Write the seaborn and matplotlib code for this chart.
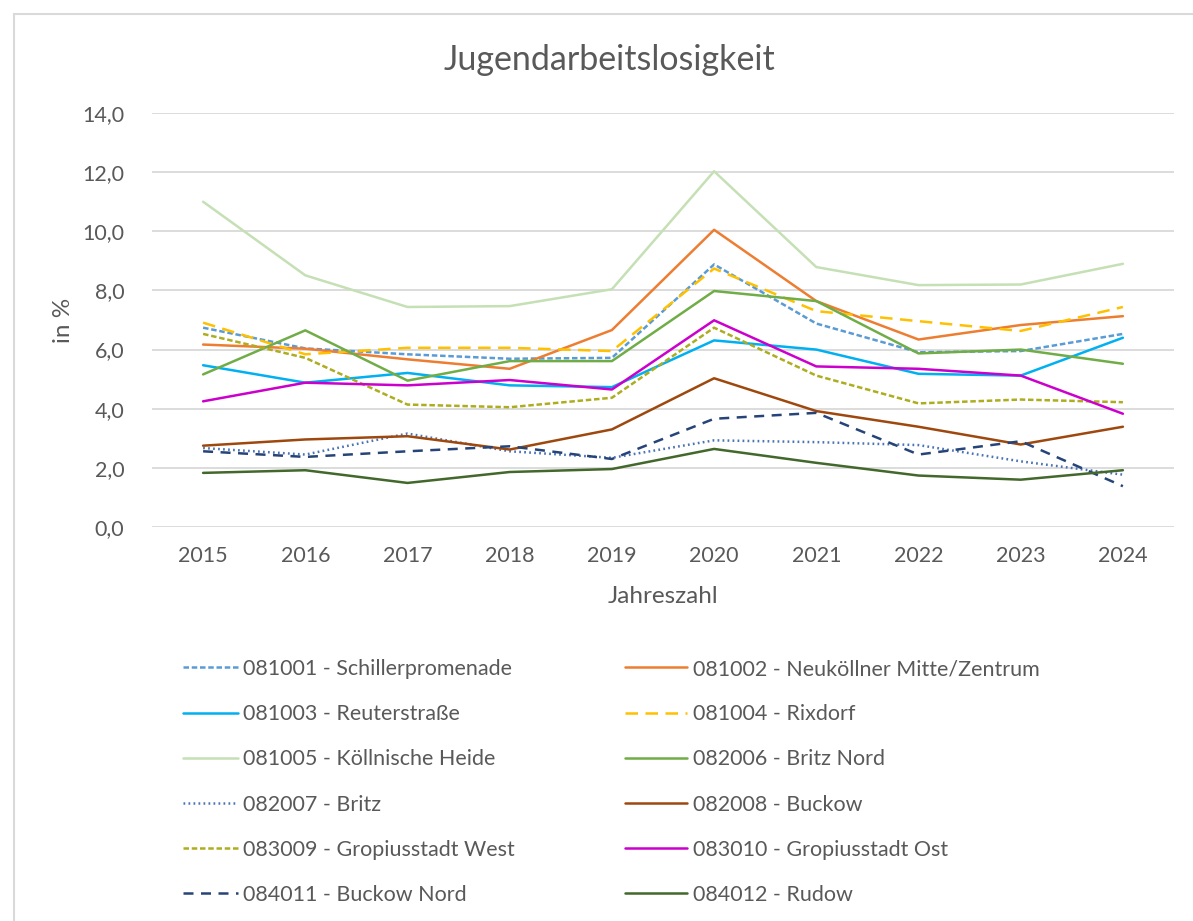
import pandas as pd
import matplotlib.pyplot as plt
import matplotlib.patches as mpatches
from matplotlib.ticker import FuncFormatter
import seaborn as sns

years = [2015, 2016, 2017, 2018, 2019, 2020, 2021, 2022, 2023, 2024]

schillerpromenade = [6.74, 6.04, 5.84, 5.69, 5.72, 8.88, 6.88, 5.91, 5.95, 6.53]
neukoelln_mitte = [6.17, 6.03, 5.67, 5.35, 6.66, 10.05, 7.64, 6.34, 6.83, 7.13]
reuterstrasse = [5.47, 4.88, 5.21, 4.79, 4.73, 6.31, 6.00, 5.18, 5.12, 6.40]
rixdorf = [6.91, 5.84, 6.06, 6.06, 5.95, 8.74, 7.30, 6.96, 6.63, 7.44]
koellnische_heide = [11.0, 8.51, 7.44, 7.47, 8.04, 12.03, 8.79, 8.18, 8.20, 8.90]
britz_nord = [5.16, 6.65, 4.95, 5.61, 5.61, 7.98, 7.64, 5.87, 6.00, 5.52]
britz = [2.67, 2.45, 3.16, 2.56, 2.34, 2.93, 2.87, 2.77, 2.22, 1.77]
buckow = [2.75, 2.96, 3.07, 2.62, 3.30, 5.03, 3.92, 3.39, 2.79, 3.39]
gropiusstadt_west = [6.53, 5.72, 4.14, 4.05, 4.37, 6.74, 5.12, 4.18, 4.31, 4.22]
gropiusstadt_ost = [4.25, 4.88, 4.79, 4.97, 4.65, 6.99, 5.43, 5.35, 5.12, 3.83]
buckow_nord = [2.56, 2.37, 2.56, 2.73, 2.30, 3.66, 3.86, 2.45, 2.90, 1.38]
rudow = [1.83, 1.92, 1.49, 1.86, 1.96, 2.64, 2.17, 1.74, 1.60, 1.92]

labels = [
    "081001 - Schillerpromenade", "081002 - Neuköllner Mitte/Zentrum",
    "081003 - Reuterstraße", "081004 - Rixdorf",
    "081005 - Köllnische Heide", "082006 - Britz Nord",
    "082007 - Britz", "082008 - Buckow",
    "083009 - Gropiusstadt West", "083010 - Gropiusstadt Ost",
    "084011 - Buckow Nord", "084012 - Rudow",
]
series = [schillerpromenade, neukoelln_mitte, reuterstrasse, rixdorf,
          koellnische_heide, britz_nord, britz, buckow,
          gropiusstadt_west, gropiusstadt_ost, buckow_nord, rudow]

colors = ["#5B9BD5", "#ED7D31", "#00B0F0", "#FFC000", "#C5E0B4", "#70AD47",
          "#4A73B5", "#9E480E", "#ADAD1F", "#CC00CC", "#264478", "#43682B"]
dashes = [(2.2, 1.1), "", "", (5, 3), "", "",
          (0.7, 1.3), "", (2.2, 1.1), "", (4, 3), ""]

rows = []
for lab, vals in zip(labels, series):
    for i, v in enumerate(vals):
        rows.append({"pos": i, "year": years[i], "Gebiet": lab, "wert": v})
df = pd.DataFrame(rows)

sns.set_style("white")
plt.rcParams["font.family"] = ["Lato", "DejaVu Sans"]
grey = "#595959"

fig = plt.figure(figsize=(11.93, 9.21), dpi=100)
ax = fig.add_axes([152 / 1193, 1 - 527 / 921, (1174 - 152) / 1193, (527 - 113) / 921])

handles = []
for lab, col, d in zip(labels, colors, dashes):
    sub = df[df["Gebiet"] == lab]
    sns.lineplot(data=sub, x="pos", y="wert", ax=ax, color=col, lw=1.8,
                 legend=False, errorbar=None)
    line = ax.get_lines()[-1]
    if d:
        line.set_dashes(d)
    handles.append(line)

ax.set_xlim(-0.5, len(years) - 0.5)
ax.set_ylim(0, 14)
ax.set_xticks(range(len(years)))
ax.set_xticklabels([str(y) for y in years])
ax.set_yticks([0, 2, 4, 6, 8, 10, 12, 14])
ax.yaxis.set_major_formatter(FuncFormatter(lambda v, p: f"{v:.1f}".replace(".", ",")))
ax.grid(axis="y", color="#D9D9D9", lw=1.3)
ax.set_axisbelow(True)
for s in ax.spines.values():
    s.set_visible(False)
ax.tick_params(axis="y", length=0, labelsize=15.5, colors=grey, pad=20)
ax.tick_params(axis="x", length=0, labelsize=15.5, colors=grey, pad=14)
ax.set_xlabel("Jahreszahl", fontsize=17.5, color=grey, labelpad=14)
ax.set_ylabel("in %", fontsize=17.5, color=grey, labelpad=6)

fig.text(609 / 1193, 1 - 60 / 921, "Jugendarbeitslosigkeit", ha="center",
         va="center", fontsize=24.5, color=grey)

# chart border
fig.patches.append(mpatches.Rectangle((14 / 1193, -0.05), 1.2, 1 - 14 / 921 + 0.05,
                                      transform=fig.transFigure, fill=False,
                                      edgecolor="#D9D9D9", lw=1.5))

leg_kw = dict(frameon=False, fontsize=15.5, handletextpad=0.25,
              labelspacing=1.17, borderpad=0, borderaxespad=0, labelcolor=grey,
              loc="upper left")
leg1 = fig.legend(handles[0::2], labels[0::2], handlelength=2.55,
                  bbox_to_anchor=(183 / 1193, 1 - 659 / 921), **leg_kw)
leg2 = fig.legend(handles[1::2], labels[1::2], handlelength=2.9,
                  bbox_to_anchor=(625 / 1193, 1 - 659 / 921), **leg_kw)

fig.savefig("out.png", dpi=100)
